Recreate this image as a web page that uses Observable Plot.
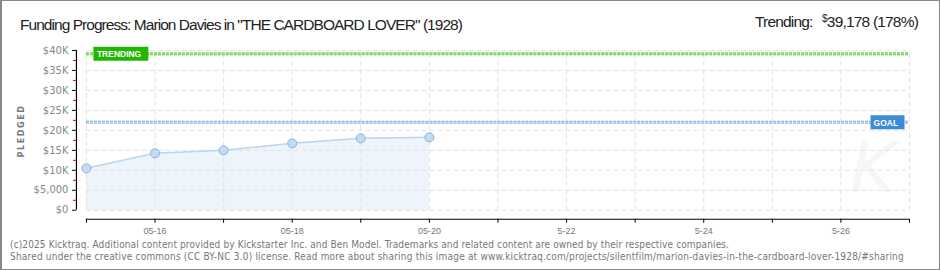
<!DOCTYPE html>
<html><head><meta charset="utf-8">
<script src="https://cdn.jsdelivr.net/npm/d3@7"></script>
<script src="https://cdn.jsdelivr.net/npm/@observablehq/plot@0.6"></script>
<style>
html,body{margin:0;padding:0;background:#fff;}
#wrap{position:relative;width:940px;height:270px;box-sizing:border-box;border:1px solid #888;border-left-width:2px;overflow:hidden;background:#fff;}
#chart{position:absolute;left:-2px;top:-1px;}
.t{position:absolute;white-space:nowrap;line-height:16px;}
#wm{left:848px;top:132px;font-family:"DejaVu Sans",sans-serif;font-style:italic;font-size:70px;line-height:70px;color:#f6f6f6;}
#title{left:18px;top:16px;font-family:"Liberation Sans Narrow",sans-serif;font-size:15.5px;color:#222;}
#trend{right:21px;top:13px;font-family:"Liberation Sans Narrow",sans-serif;font-size:15.5px;color:#222;}
#trend sup{font-size:10px;vertical-align:5px;line-height:0;margin-left:6px;}
.foot{left:8px;font-family:"DejaVu Sans Condensed","DejaVu Sans",sans-serif;font-size:10px;color:#777;line-height:12px;}
#f1{top:238px;}
#f2{top:250px;}
#ylab{left:-12px;top:124px;width:64px;text-align:center;transform:rotate(-90deg);font-family:"DejaVu Sans",sans-serif;font-size:8px;font-weight:bold;letter-spacing:1.6px;color:#777;line-height:12px;}
</style></head>
<body>
<div id="wrap">
<div class="t" id="wm">K</div>
<div id="chart"></div>
<div class="t" id="title">Funding Progress: Marion Davies in "THE CARDBOARD LOVER" (1928)</div>
<div class="t" id="trend">Trending: <sup>$</sup>39,178 (178%)</div>
<div class="t" id="ylab">PLEDGED</div>
<div class="t foot" id="f1">(c)2025 Kicktraq. Additional content provided by Kickstarter Inc. and Ben Model. Trademarks and related content are owned by their respective companies.</div>
<div class="t foot" id="f2">Shared under the creative commons (CC BY-NC 3.0) license. Read more about sharing this image at www.kicktraq.com/projects/silentfilm/marion-davies-in-the-cardboard-lover-1928/#sharing</div>
</div>
<script>
// ---- data ----
const dates = ["2025-05-15","2025-05-16","2025-05-17","2025-05-18","2025-05-19","2025-05-20"];
const pledged = [10500, 14250, 15000, 16750, 18000, 18250];
const goal = 22010;
const trending = 39178;
const xStart = "2025-05-15";
const xEnd = "2025-05-27";
const yTicks = [0, 5000, 10000, 15000, 20000, 25000, 30000, 35000, 40000];
const yTickLabels = ["$0","$5,000","$10K","$15K","$20K","$25K","$30K","$35K","$40K"];
const yMinorTicks = [2500, 7500, 12500, 17500, 22500, 27500, 32500, 37500];
const xTickDates = ["2025-05-16","2025-05-18","2025-05-20","2025-05-22","2025-05-24","2025-05-26"];
const xTickLabels = ["05-16","05-18","05-20","5-22","5-24","5-26"];

// ---- build ----
const X0 = new Date(xStart), X1 = new Date(xEnd);
const rows = dates.map((d, i) => ({date: new Date(d), value: pledged[i]}));
const days = d3.utcDay.range(X0, d3.utcDay.offset(X1, 1));
const xLabelMap = new Map(xTickDates.map((d, i) => [+new Date(d), xTickLabels[i]]));
const yLabelMap = new Map(yTicks.map((v, i) => [v, yTickLabels[i]]));

const box = (w, h) => ({draw(ctx) { ctx.rect(-w / 2, -h / 2, w, h); }});
const gridStyle = {stroke: "#e3e3e3", strokeWidth: 1, strokeDasharray: "5,3"};

const chart = Plot.plot({
  width: 940, height: 270,
  marginLeft: 76, marginRight: 30, marginTop: 50, marginBottom: 51,
  style: {background: "transparent", overflow: "visible"},
  x: {type: "utc", domain: [X0, X1], insetLeft: 10},
  y: {domain: [0, 40000], insetBottom: 9},
  marks: [
    Plot.areaY(rows, {x: "date", y: "value", fill: "#edf4fc"}),
    Plot.ruleY(yTicks, {y: d => d, x1: X0, x2: X1, ...gridStyle}),
    Plot.ruleX(days, {x: d => d, y1: 0, y2: 40000, ...gridStyle}),
    Plot.lineY(rows, {x: "date", y: "value", stroke: "#b9d5f2", strokeWidth: 1.5}),
    Plot.ruleY([goal], {y: d => d, x1: X0, x2: X1, stroke: "#8cb3e0", strokeWidth: 3, strokeDasharray: "3,1"}),
    Plot.ruleY([goal], {y: d => d, x1: X0, x2: X1, stroke: "#c4dbf3", strokeWidth: 1, strokeDasharray: "3,1"}),
    Plot.ruleY([trending], {y: d => d, x1: X0, x2: X1, stroke: "#5ccf3f", strokeWidth: 3, strokeDasharray: "3,1"}),
    Plot.ruleY([trending], {y: d => d, x1: X0, x2: X1, stroke: "#a6ec93", strokeWidth: 1, strokeDasharray: "3,1"}),
    Plot.dot(rows, {x: "date", y: "value", r: 4.5, fill: "#c3dcf6", stroke: "#8eaed6", strokeWidth: 1}),
    // label boxes
    Plot.dot([trending], {x: () => X0, y: d => d, symbol: box(55, 14), r: 3, fill: "#1fb800", stroke: "none", dx: 34.5}),
    Plot.text([trending], {x: () => X0, y: d => d, text: () => "TRENDING", fill: "#fff", textAnchor: "start", dx: 10.5, dy: 0.5,
      fontFamily: "Liberation Sans, sans-serif", fontWeight: "bold", fontSize: 8.5}),
    Plot.dot([goal], {x: () => X1, y: d => d, symbol: box(34, 14), r: 3, fill: "#3d8ad8", stroke: "none", dx: -22}),
    Plot.text([goal], {x: () => X1, y: d => d, text: () => "GOAL", fill: "#fff", textAnchor: "start", dx: -36, dy: 0.5,
      fontFamily: "Liberation Sans, sans-serif", fontWeight: "bold", fontSize: 8.5}),
    // axis lines
    Plot.ruleX([X0], {x: d => d, y1: 0, y2: 40000, dx: -10, stroke: "#000", strokeWidth: 1.2}),
    Plot.ruleY([0], {y: d => d, x1: X0, x2: X1, dy: 9, stroke: "#000", strokeWidth: 1.2}),
    // axes
    Plot.axisY({ticks: yMinorTicks, tickSize: 3, stroke: "#e00000", tickFormat: () => "", label: null}),
    Plot.axisY({ticks: yTicks, tickSize: 4, tickPadding: 4, stroke: "#000", fill: "#888", label: null,
      tickFormat: v => yLabelMap.get(v), fontFamily: "DejaVu Sans, sans-serif", fontSize: 10}),
    Plot.axisX({ticks: days, tickSize: 4, tickPadding: 4, stroke: "#000", fill: "#777", label: null,
      tickFormat: d => xLabelMap.get(+d) ?? "", fontFamily: "Liberation Sans Narrow, sans-serif", fontSize: 9})
  ]
});
document.getElementById("chart").appendChild(chart);

// fit overlay texts to their measured widths in the reference
function fit(id, w) {
  const el = document.getElementById(id);
  const r = el.getBoundingClientRect().width;
  const n = el.textContent.length;
  el.style.letterSpacing = ((w - r) / n).toFixed(3) + "px";
}
fit("title", 442);
fit("trend", 163);
fit("f1", 719);
fit("f2", 894);
</script>
</body></html>
